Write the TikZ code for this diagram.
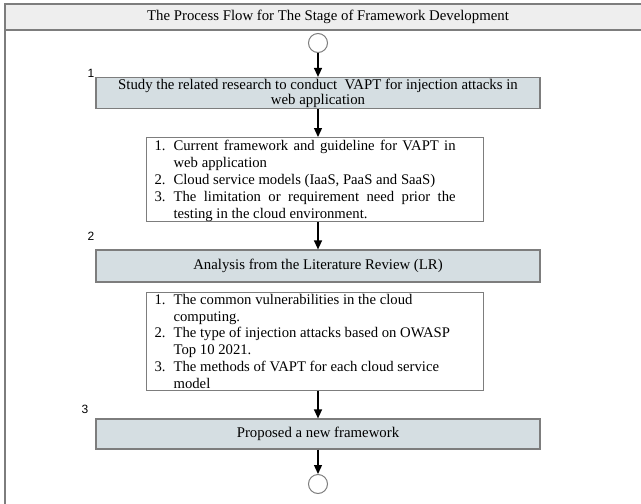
\documentclass[tikz,border=0pt]{standalone}
\usepackage{fontspec}
\setmainfont{Liberation Serif}
\newfontfamily\numfont{Liberation Sans}
\usetikzlibrary{arrows.meta}
\definecolor{boxfill}{RGB}{213,222,226}
\definecolor{headfill}{RGB}{238,238,238}
\definecolor{edge}{RGB}{125,125,125}
\newcommand{\litem}[2]{\hangindent=19pt\hangafter=1\noindent\makebox[19pt][l]{#1}#2\par}
\begin{document}
\begin{tikzpicture}[x=1pt,y=-1pt,
  stagebox/.style={draw=edge, line width=1.2pt, fill=boxfill, minimum width=444pt, inner sep=0pt, align=center, font=\fontsize{14.8}{15}\selectfont},
  listbox/.style={draw=edge, line width=1.2pt, fill=white, inner sep=0pt, anchor=north west, font=\fontsize{14.7}{16.8}\selectfont},
  terminal/.style={circle, draw=edge, line width=1pt, minimum size=19pt, inner sep=0pt, fill=white},
  flow/.style={-{Triangle[length=9pt,width=8pt]}, line width=1.3pt, black},
  steplabel/.style={font=\numfont\fontsize{12}{12}\selectfont, inner sep=0pt},
  headtext/.style={font=\fontsize{14.8}{16}\selectfont, inner sep=0pt}
]
\useasboundingbox (0,0) rectangle (641,504);
% frame and header
\fill[headfill] (5,4) rectangle (648,30);
\draw[edge, line width=1.5pt] (648,4) -- (5,4) -- (5,506);
\draw[edge, line width=1.5pt] (5,30) -- (648,30);
\node[headtext] (head) at (328,17) {The Process Flow for The Stage of Framework Development};

% start
\node[terminal] (start) at (318,43) {};

% stage 1
\node[stagebox, minimum height=31pt] (b1) at (318,93) {Study the related research to conduct\ \ VAPT for injection attacks in\\web application};
\node[steplabel] (n1) at (91,73) {1};

\node[listbox, minimum width=337pt] (l1) at (146,137) {\parbox[b][84pt][t]{337pt}{\vspace{3pt}\leftskip=8pt\rightskip=28pt
\litem{1.}{Current framework and guideline for VAPT in\linebreak web application}
\litem{2.}{Cloud service models (IaaS, PaaS and SaaS)}
\litem{3.}{The limitation or requirement need prior the\linebreak testing in the cloud environment.}}};

% stage 2
\node[stagebox, minimum height=32pt] (b2) at (318,266) {Analysis from the Literature Review (LR)};
\node[steplabel] (n2) at (91,236) {2};

\node[listbox, minimum width=337pt] (l2) at (146,291.5) {\parbox[b][98pt][t]{337pt}{\vspace{2pt}\leftskip=8pt\rightskip=0pt plus 1fil
\litem{1.}{The common vulnerabilities in the cloud\newline computing.}
\litem{2.}{The type of injection attacks based on OWASP\newline Top 10 2021.}
\litem{3.}{The methods of VAPT for each cloud service\newline model}}};

% stage 3
\node[stagebox, minimum height=30pt] (b3) at (318,434) {Proposed a new framework};
\node[steplabel] (n3) at (85,409.5) {3};

% end
\node[terminal] (stop) at (318,484) {};

% connectors
\draw[flow] (start.south) -- (b1.north);
\draw[flow] (b1.south) -- (b1.south |- l1.north);
\draw[flow] (b1.south |- l1.south) -- (b2.north);
\draw[flow] (b2.south |- l2.south) -- (b3.north);
\draw[flow] (b3.south) -- (stop.north);
\end{tikzpicture}
\end{document}
